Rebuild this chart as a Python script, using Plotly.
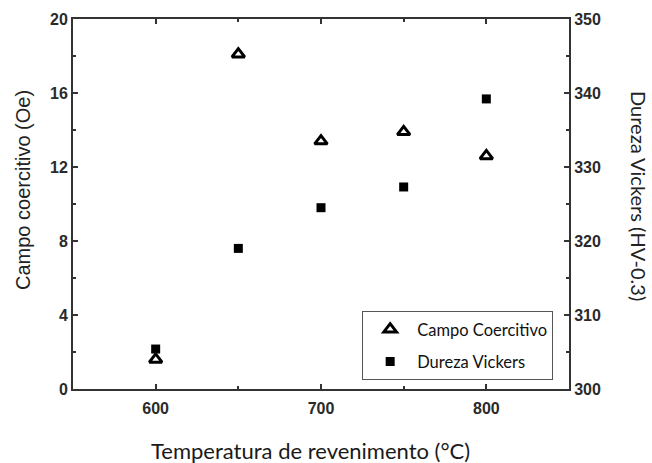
import plotly.graph_objects as go

temperatura = [600, 650, 700, 750, 800]
campo_coercitivo = [1.6, 18.1, 13.4, 13.9, 12.6]
dureza_vickers = [305.4, 319.0, 324.5, 327.3, 339.2]

x_ticks = [600, 700, 800]
y1_ticks = [0, 4, 8, 12, 16, 20]
y2_ticks = [300, 310, 320, 330, 340, 350]

axis_col = "#333333"
tick_font = dict(family="Liberation Sans, Arial", size=16, color="#2a2a2a",
                 weight="bold")

fig = go.Figure()
fig.add_trace(go.Scatter(
    x=temperatura, y=campo_coercitivo, mode="markers", name="Campo Coercitivo",
    legendgroup="a",
    marker=dict(symbol="triangle-up-open", size=11, color="black",
                line=dict(width=3, color="black")),
    yaxis="y"))
fig.add_trace(go.Scatter(
    x=temperatura, y=dureza_vickers, mode="markers", name="Dureza Vickers",
    legendgroup="b",
    marker=dict(symbol="square", size=9, color="black"),
    yaxis="y2"))

common = dict(showline=True, linecolor=axis_col, linewidth=2, ticks="inside",
              ticklen=5, tickwidth=1.5, tickcolor=axis_col, showgrid=False,
              zeroline=False, tickfont=tick_font)

fig.update_layout(
    width=652, height=463,
    margin=dict(l=73, r=83, t=19, b=74),
    plot_bgcolor="white", paper_bgcolor="white",
    showlegend=True,
    xaxis=dict(range=[550, 850], tickvals=x_ticks, mirror="ticks",
               ticklabelstandoff=4,
               minor=dict(dtick=50, tick0=550, ticks="inside", ticklen=3,
                          tickcolor=axis_col),
               **common),
    yaxis=dict(range=[0, 20], tickvals=y1_ticks,
               minor=dict(dtick=2, tick0=0, ticks="inside", ticklen=3,
                          tickcolor=axis_col),
               **common),
    yaxis2=dict(range=[300, 350], tickvals=y2_ticks, overlaying="y",
                side="right",
                minor=dict(dtick=5, tick0=300, ticks="inside", ticklen=3,
                           tickcolor=axis_col),
                **common),
    legend=dict(x=0.583, y=0.211, xanchor="left", yanchor="top",
                bordercolor="#555555", borderwidth=1, bgcolor="white",
                font=dict(family="Lato", size=16.5, color="#111111"),
                tracegroupgap=8, itemwidth=44),
    annotations=[
        dict(text="Temperatura de revenimento (°C)", xref="paper", yref="paper",
             x=(310 - 73) / 496, y=-(450 - 389) / 370, showarrow=False,
             xanchor="center", yanchor="middle",
             font=dict(family="Lato", size=22, color="#1a1a1a")),
        dict(text="Campo coercitivo (Oe)", xref="paper", yref="paper",
             x=-(73 - 23) / 496, y=(389 - 190) / 370, showarrow=False,
             textangle=-90, xanchor="center", yanchor="middle",
             font=dict(family="Liberation Sans, Arial", size=20,
                       color="#222222")),
        dict(text="Dureza Vickers (HV-0.3)", xref="paper", yref="paper",
             x=1 + (639 - 569) / 496, y=(389 - 196) / 370, showarrow=False,
             textangle=90, xanchor="center", yanchor="middle",
             font=dict(family="Lato", size=20, color="#222222")),
    ],
)

fig.write_html("out.html")
